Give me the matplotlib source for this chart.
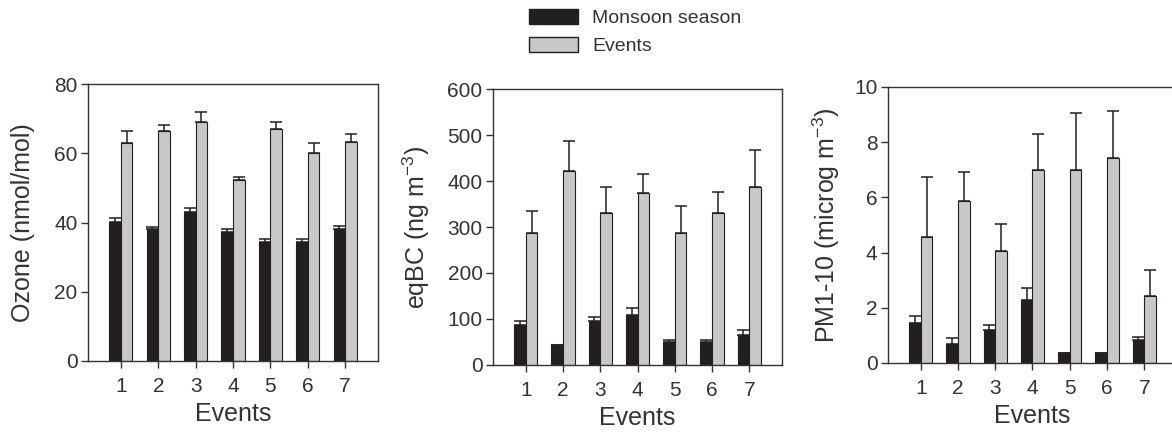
import matplotlib
matplotlib.use("Agg")
import matplotlib.pyplot as plt
import numpy as np
from matplotlib.patches import Patch

plt.rcParams['font.family'] = ['Liberation Sans', 'DejaVu Sans']
plt.rcParams['mathtext.fontset'] = 'custom'
plt.rcParams['mathtext.rm'] = 'Liberation Sans'
plt.rcParams['mathtext.it'] = 'Liberation Sans'
plt.rcParams['mathtext.default'] = 'regular'

events = [1, 2, 3, 4, 5, 6, 7]

ozone_monsoon = [40.2, 38.0, 43.1, 37.2, 34.4, 34.4, 38.0]
ozone_monsoon_err = [1.0, 0.8, 1.0, 0.9, 0.7, 0.7, 1.1]
ozone_events = [63.1, 66.3, 69.1, 52.3, 67.1, 60.1, 63.2]
ozone_events_err = [3.4, 1.8, 2.9, 0.9, 2.0, 2.8, 2.3]

bc_monsoon = [87, 44, 96, 109, 49, 49, 65]
bc_monsoon_err = [9, 0, 8, 14, 6, 6, 12]
bc_events = [287, 421, 330, 375, 287, 330, 386]
bc_events_err = [48, 67, 56, 41, 58, 46, 81]

pm_monsoon = [1.44, 0.68, 1.18, 2.30, 0.37, 0.37, 0.82]
pm_monsoon_err = [0.26, 0.21, 0.20, 0.43, 0.0, 0.0, 0.13]
pm_events = [4.57, 5.86, 4.04, 7.01, 6.98, 7.41, 2.41]
pm_events_err = [2.17, 1.06, 0.99, 1.28, 2.09, 1.71, 0.96]

ylabels = ['Ozone (nmol/mol)', 'eqBC (ng m$^{-3}$)', 'PM1-10 (microg m$^{-3}$)']
ylims = [(0, 80), (0, 600), (0, 10)]
yticks = [[0, 20, 40, 60, 80], [0, 100, 200, 300, 400, 500, 600], [0, 2, 4, 6, 8, 10]]
legend_labels = ['Monsoon season', 'Events']

dark = '#231f20'
grey = '#c8c8c8'
txt = '#333333'
W, H = 1172, 432

fig = plt.figure(figsize=(11.72, 4.32), dpi=100)
rects = [(88, 84, 378, 361), (493, 89, 782, 365), (888, 87, 1177, 363)]
label_x = [-0.183, -0.211, -0.159]
data = [(ozone_monsoon, ozone_monsoon_err, ozone_events, ozone_events_err),
        (bc_monsoon, bc_monsoon_err, bc_events, bc_events_err),
        (pm_monsoon, pm_monsoon_err, pm_events, pm_events_err)]

x = np.array(events)
bw = 0.31
for i, (l, t, r, b) in enumerate(rects):
    ax = fig.add_axes([l / W, 1 - b / H, (r - l) / W, (b - t) / H])
    m, me, e, ee = data[i]
    ax.bar(x - bw / 2, m, bw, color=dark, edgecolor=dark, linewidth=0.8,
           yerr=[np.zeros(7), me], capsize=4.5,
           error_kw=dict(ecolor=dark, elinewidth=1.1, capthick=1.1), zorder=2)
    ax.bar(x + bw / 2, e, bw, color=grey, edgecolor=dark, linewidth=0.8,
           yerr=[np.zeros(7), ee], capsize=4.5,
           error_kw=dict(ecolor=dark, elinewidth=1.1, capthick=1.1), zorder=2)
    ax.set_xlim(0.12, 7.88)
    ax.set_ylim(*ylims[i])
    ax.set_yticks(yticks[i])
    ax.set_xticks(events)
    ax.tick_params(direction='out', length=5, width=1.0, color=txt,
                   labelsize=15, labelcolor=txt)
    ax.tick_params(axis='x', pad=6.5)
    ax.tick_params(axis='y', pad=2.5)
    for s in ax.spines.values():
        s.set_color(txt)
        s.set_linewidth(1.0)
    ax.set_ylabel(ylabels[i], fontsize=18, color=txt)
    ax.yaxis.set_label_coords(label_x[i], 0.5)
    ax.set_xlabel('Events', fontsize=18, color=txt, labelpad=4)

handles = [Patch(facecolor=dark, edgecolor=dark), Patch(facecolor=grey, edgecolor=dark)]
fig.legend(handles, legend_labels, loc='upper left', bbox_to_anchor=(529 / W, 1 - 9 / H),
           frameon=False, fontsize=14, handlelength=2.5, handleheight=0.8,
           handletextpad=0.75, labelspacing=0.5, borderpad=0, borderaxespad=0,
           labelcolor=txt)

fig.savefig('out.png', dpi=100)
